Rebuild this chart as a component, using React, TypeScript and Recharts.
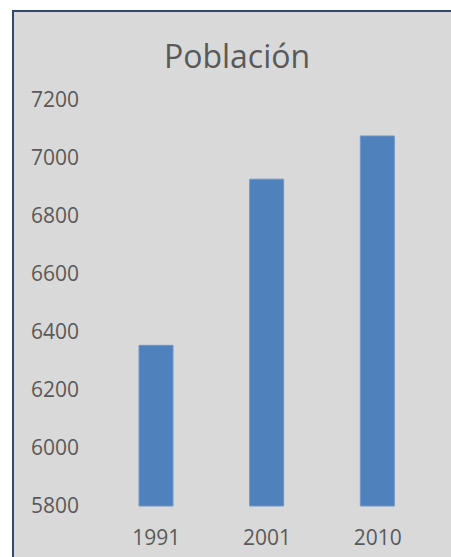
import { BarChart, Bar, XAxis, YAxis } from 'recharts';

const years = ['1991', '2001', '2010'];
const poblacion = [6354, 6927, 7076];
const yTicks = [5800, 6000, 6200, 6400, 6600, 6800, 7000, 7200];

const data = years.map((year, i) => ({ year, poblacion: poblacion[i] }));

const font = '"Open Sans", sans-serif';
const textColor = '#595959';

export default function App() {
  return (
    <div
      style={{
        position: 'fixed',
        left: 0,
        top: 0,
        width: 451,
        height: 557,
        overflow: 'hidden',
        background: '#ffffff',
        fontFamily: font,
      }}
    >
      {/* marco del gráfico, se corta a la derecha y abajo */}
      <div
        style={{
          position: 'absolute',
          left: 12,
          top: 10,
          width: 470,
          height: 580,
          border: '2px solid #2f4a6d',
          background: '#d9d9d9',
          boxSizing: 'border-box',
        }}
      />
      <div
        style={{
          position: 'absolute',
          left: 0,
          width: 474,
          top: 40,
          lineHeight: '32px',
          fontSize: 32,
          color: textColor,
          textAlign: 'center',
        }}
      >
        Población
      </div>
      <div style={{ position: 'absolute', left: 0, top: 0 }}>
        <BarChart
          width={451}
          height={557}
          data={data}
          margin={{ top: 100, right: 18, bottom: 0, left: 0 }}
        >
          <XAxis
            dataKey="year"
            height={51}
            axisLine={false}
            tickLine={false}
            tickSize={0}
            tickMargin={24}
            tick={{ fontSize: 21, fill: textColor, fontFamily: font }}
          />
          <YAxis
            domain={[5800, 7200]}
            ticks={yTicks}
            width={101}
            axisLine={false}
            tickLine={false}
            tickSize={0}
            tickMargin={22}
            interval={0}
            tick={{ fontSize: 21, fill: textColor, fontFamily: font }}
          />
          <Bar
            dataKey="poblacion"
            fill="#4f81bd"
            stroke="#7096c8"
            strokeWidth={1}
            barSize={34}
            isAnimationActive={false}
          />
        </BarChart>
      </div>
    </div>
  );
}
